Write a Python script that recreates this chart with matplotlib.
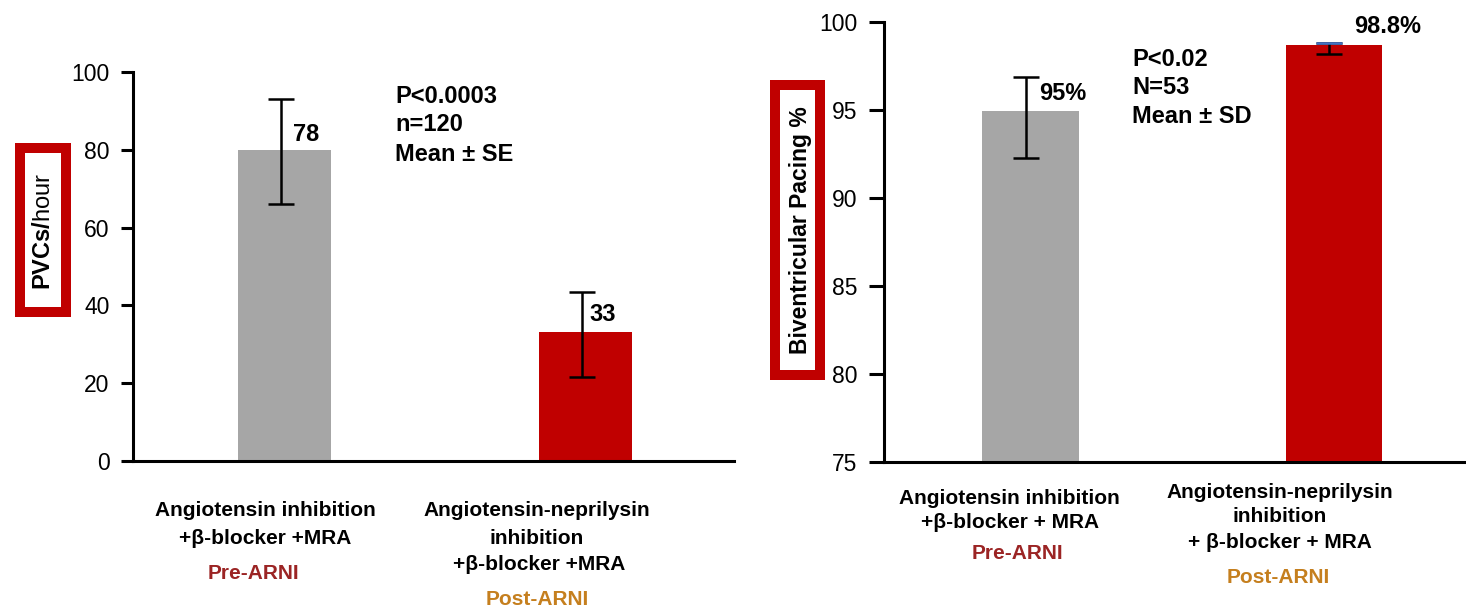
import matplotlib
matplotlib.use('Agg')
import matplotlib.pyplot as plt
from matplotlib.patches import Rectangle

plt.rcParams['font.family'] = ['Liberation Sans', 'DejaVu Sans']
plt.rcParams['mathtext.fontset'] = 'custom'
plt.rcParams['mathtext.bf'] = 'Liberation Sans:bold'
plt.rcParams['mathtext.rm'] = 'Liberation Sans'

# data
groups = ['Pre-ARNI', 'Post-ARNI']
pvc_mean = [80, 33.2]
pvc_low = [66.1, 21.6]
pvc_high = [93.1, 43.4]
pvc_text = ['78', '33']

bivp_mean = [94.95, 98.7]
bivp_low = [92.3, 98.2]
bivp_high = [96.9, 98.82]
bivp_text = ['95%', '98.8%']

bar_colors = ['#A6A6A6', '#C00000']
group_colors = ['#9B2424', '#C57F1E']

W, H = 1466, 611
fig = plt.figure(figsize=(W / 100, H / 100), dpi=100)


def px(x, y):
    return x / W, 1 - y / H


def ftext(x, y, s, **kw):
    fx, fy = px(x, y)
    fig.text(fx, fy, s, **kw)


def style_axes(ax, ticklen):
    ax.spines['top'].set_visible(False)
    ax.spines['right'].set_visible(False)
    for s in ('left', 'bottom'):
        ax.spines[s].set_linewidth(2.2)
    ax.tick_params(axis='y', length=ticklen, width=2.2, labelsize=16.5, pad=8)
    ax.tick_params(axis='x', length=0, labelbottom=False)


# left panel: PVCs/hour
ax1 = fig.add_axes([133 / W, 1 - 461 / H, 601 / W, 389 / H])
x = [0, 1]
ax1.bar(x, pvc_mean, width=0.31, color=bar_colors)
for i in x:
    ax1.errorbar(i - 0.012, pvc_mean[i],
                 yerr=[[pvc_mean[i] - pvc_low[i]], [pvc_high[i] - pvc_mean[i]]],
                 fmt='none', ecolor='black', elinewidth=1.8, capsize=9.5, capthick=1.8)
ax1.set_xlim(-0.503, 1.493)
ax1.set_ylim(0, 100)
ax1.set_yticks(range(0, 101, 20))
style_axes(ax1, 9)

# right panel: biventricular pacing
ax2 = fig.add_axes([884 / W, 1 - 462 / H, 600 / W, 440 / H])
ax2.bar(x, bivp_mean, width=0.32, color=bar_colors, bottom=0)
for i in x:
    ax2.errorbar(i - 0.017, bivp_mean[i],
                 yerr=[[bivp_mean[i] - bivp_low[i]], [bivp_high[i] - bivp_mean[i]]],
                 fmt='none', ecolor='black', elinewidth=1.8, capsize=9.5, capthick=1.8)
ax2.plot([1 - 0.017], [bivp_high[1]], marker='_', markersize=19,
         markeredgewidth=1.8, color='#4472C4')
ax2.set_xlim(-0.485, 1.495)
ax2.set_ylim(75, 100)
ax2.set_yticks(range(75, 101, 5))
style_axes(ax2, 11)

# boxed y labels
for (x0, y0, x1, y1) in [(20, 148, 66, 312), (775, 85, 820, 375)]:
    fx0, fy1 = px(x0, y1)
    fig.patches.append(Rectangle((fx0, fy1), (x1 - x0) / W, (y1 - y0) / H,
                                 transform=fig.transFigure, facecolor='white',
                                 edgecolor='#C00000', linewidth=7.2))
ftext(44, 231, r'$\mathbf{PVCs/}$hour', rotation=90, ha='center', va='center', fontsize=17)
ftext(800, 230, 'Biventricular Pacing %', rotation=90, ha='center', va='center',
      fontsize=16.5, fontweight='bold')

# value labels
bold = dict(fontsize=17, fontweight='bold', va='top', ha='left')
ftext(293, 123, pvc_text[0], **bold)
ftext(589, 303, pvc_text[1], **bold)
ftext(1039, 82, bivp_text[0], **bold)
ftext(1354, 15, bivp_text[1], **bold)

# statistics
for i, s in enumerate(['P<0.0003', 'n=120', 'Mean ± SE']):
    ftext(395, 85 + [0, 28, 58][i], s, **bold)
for i, s in enumerate(['P<0.02', 'N=53', 'Mean ± SD']):
    ftext(1132, 48 + [0, 28, 57][i], s, **bold)

# category labels
cat = dict(fontsize=15, fontweight='bold', va='top', ha='center')
ftext(265, 501, 'Angiotensin inhibition', **cat)
ftext(265, 529, '+β-blocker +MRA', **cat)
ftext(253, 564, groups[0], color=group_colors[0], **cat)
ftext(537, 501, 'Angiotensin-neprilysin', **cat)
ftext(537, 529, 'inhibition', **cat)
ftext(539, 555, '+β-blocker +MRA', **cat)
ftext(537, 590, groups[1], color=group_colors[1], **cat)

ftext(1009, 489, 'Angiotensin inhibition', **cat)
ftext(1010, 513, '+β-blocker + MRA', **cat)
ftext(1017, 544, groups[0], color=group_colors[0], **cat)
ftext(1280, 483, 'Angiotensin-neprilysin', **cat)
ftext(1280, 507, 'inhibition', **cat)
ftext(1280, 533, '+ β-blocker + MRA', **cat)
ftext(1278, 568, groups[1], color=group_colors[1], **cat)

fig.savefig('out.png', dpi=100)
